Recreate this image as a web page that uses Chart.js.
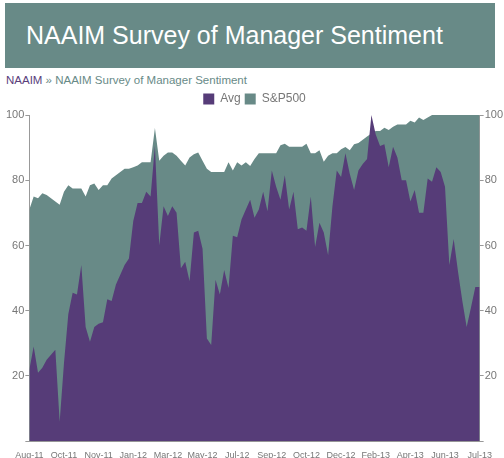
<!DOCTYPE html>
<html>
<head>
<meta charset="utf-8">
<script src="https://cdn.jsdelivr.net/npm/chart.js@4"></script>
<style>
  html, body { margin: 0; padding: 0; background: #fff; }
  body { width: 504px; height: 458px; overflow: hidden; font-family: "Liberation Sans", Arial, sans-serif; }
  .banner { position: absolute; left: 5px; top: 3px; width: 490px; height: 65px; background: #688a87; }
  .banner h1 { margin: 0; padding: 0 0 0 21px; line-height: 65px; font-size: 25px; font-weight: normal; color: #fff; }
  .crumb { position: absolute; left: 6px; top: 74px; font-size: 11.5px; color: #688a87; }
  .crumb a { color: #5a3e7c; text-decoration: none; }
  .wrap { position: absolute; left: 0; top: 89px; width: 504px; height: 373px; }
</style>
</head>
<body>
<div class="banner"><h1>NAAIM Survey of Manager Sentiment</h1></div>
<div class="crumb"><a>NAAIM</a> » NAAIM Survey of Manager Sentiment</div>
<div class="wrap"><canvas id="grafico"></canvas></div>
<script>
// semanas desde ago-2011 (0..104)
const tickLabels = ['Aug-11', 'Oct-11', 'Nov-11', 'Jan-12', 'Mar-12', 'May-12', 'Jul-12',
  'Sep-12', 'Oct-12', 'Dec-12', 'Feb-13', 'Apr-13', 'Jun-13', 'Jul-13'];

const avg = [22, 29, 21, 22.5, 25, 26.5, 28, 6, 24, 39,
  45.5, 45, 54, 35, 30.5, 35, 36, 36.5, 43.5, 43,
  48, 51, 54, 56, 67.5, 73, 73, 76.5, 75, 90.5,
  60, 72, 69, 72, 70, 53, 55, 49, 64, 64.5,
  59, 31.5, 29.5, 49.5, 45, 52.5, 47, 63, 62.5, 68,
  71, 74, 68.5, 71, 76.5, 70.5, 83, 78, 74, 81.5,
  71, 76.5, 65, 65.5, 64.5, 75, 59.5, 67, 64, 57,
  72, 83, 81, 88.3, 82, 77, 83, 85, 86.5, 100,
  94, 90.5, 91, 84, 90.3, 87, 80, 80, 73.5, 77,
  70, 70, 80.5, 79.5, 84, 82.5, 78, 54, 62, 52,
  43, 35, 41, 47.3, 47.3];

const sp500 = [71, 75, 74.5, 76, 75.5, 74.5, 73.5, 72.5, 76.5, 78.5,
  77.5, 77.5, 77.5, 75, 78.5, 79, 77, 78.5, 78.5, 80.5,
  81.5, 82.5, 83.5, 83.5, 84, 84.5, 85.5, 85.5, 85.5, 96,
  86, 87.5, 88.5, 88.5, 87.5, 86, 84.5, 87, 88, 88.5,
  86, 83.5, 82.5, 82.5, 82.5, 82.5, 85.5, 83, 85.5, 84.5,
  85.5, 84.4, 86.5, 88.3, 88.3, 88.3, 88.3, 88.3, 90.7, 91.2,
  90.3, 90.3, 90.3, 90.3, 91.2, 88.3, 88.3, 89.2, 85.7, 87.5,
  88.3, 88.3, 89.5, 90.2, 89.2, 91, 91.4, 92.4, 93.4, 94.3,
  95.1, 95.1, 96.1, 95.4, 96.4, 97.1, 97.1, 97.1, 98.2, 97.7,
  99.2, 98.5, 99.2, 100, 100, 100, 100, 100, 100, 100,
  100, 100, 100, 100, 100];

const MORADO = '#563c78';
const VERDE = '#688a87';
const GRIS = '#777777';
const EJE = '#999999';

const aPuntos = arr => arr.map((v, i) => ({ x: i, y: v }));

const ejeY = (pos) => ({
  position: pos,
  min: 0,
  max: 100,
  border: { display: true, color: EJE },
  grid: { drawOnChartArea: false, drawTicks: true, tickLength: 4, color: EJE },
  ticks: {
    stepSize: 20,
    padding: 1,
    color: GRIS,
    font: { family: 'Liberation Sans', size: 11 },
    callback: v => (v === 0 ? '' : v)
  }
});

new Chart(document.getElementById('grafico'), {
  type: 'line',
  data: {
    datasets: [
      {
        label: 'Avg',
        data: aPuntos(avg),
        backgroundColor: MORADO,
        borderColor: MORADO,
        borderWidth: 0,
        pointRadius: 0,
        fill: 'origin',
        yAxisID: 'y'
      },
      {
        label: 'S&P500',
        data: aPuntos(sp500),
        backgroundColor: VERDE,
        borderColor: VERDE,
        borderWidth: 0,
        pointRadius: 0,
        fill: 'origin',
        yAxisID: 'y'
      }
    ]
  },
  options: {
    responsive: true,
    maintainAspectRatio: false,
    animation: false,
    layout: { padding: { left: 5, right: 0, top: 0, bottom: 0 } },
    plugins: {
      legend: {
        position: 'top',
        labels: {
          boxWidth: 11,
          boxHeight: 11,
          padding: 4,
          color: GRIS,
          font: { family: 'Liberation Sans', size: 12 }
        }
      },
      tooltip: { enabled: false }
    },
    scales: {
      x: {
        type: 'linear',
        min: 0,
        max: avg.length - 1,
        border: { display: true, color: EJE },
        grid: { display: false },
        ticks: {
          stepSize: 8,
          padding: 1,
          maxRotation: 0,
          autoSkip: false,
          color: GRIS,
          font: { family: 'Liberation Sans', size: 9 },
          callback: v => tickLabels[v / 8]
        }
      },
      y: ejeY('left'),
      y2: ejeY('right')
    }
  }
});
</script>
</body>
</html>
